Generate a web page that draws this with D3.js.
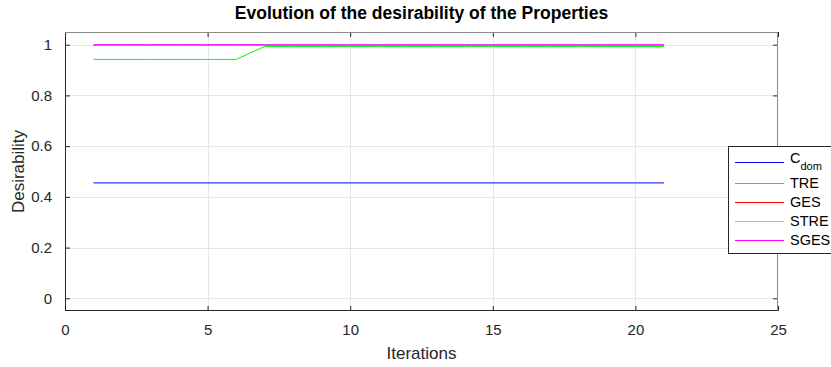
<!DOCTYPE html>
<html><head><meta charset="utf-8">
<script src="https://cdn.jsdelivr.net/npm/d3@7"></script>
<style>body{margin:0;background:#fff;}svg{display:block;font-family:"Liberation Sans",Arial,sans-serif;}</style>
</head><body><svg id="c" width="831" height="367"></svg>
<script>
const iterations = d3.range(1, 22);
const cdom = [0.455,0.455,0.455,0.455,0.455,0.455,0.455,0.455,0.455,0.455,0.455,0.455,0.455,0.455,0.455,0.455,0.455,0.455,0.455,0.455,0.455];
const tre  = [0.942,0.942,0.942,0.942,0.942,0.942,0.993,0.993,0.993,0.993,0.993,0.993,0.993,0.993,0.993,0.993,0.993,0.993,0.993,0.993,0.993];
const ges  = [0.997,0.997,0.997,0.997,0.997,0.997,0.997,0.997,0.997,0.997,0.997,0.997,0.997,0.997,0.997,0.997,0.997,0.997,0.997,0.997,0.997];
const stre = [0.998,0.998,0.998,0.998,0.998,0.998,0.998,0.998,0.998,0.998,0.998,0.998,0.998,0.998,0.998,0.998,0.998,0.998,0.998,0.998,0.998];
const sges = [1,1,1,1,1,1,1,1,1,1,1,1,1,1,1,1,1,1,1,1,1];
const seriesNames = ["C_dom","TRE","GES","STRE","SGES"];
const seriesColors = ["#0000ff","#00ff00","#ff0000","#00ffff","#ff00ff"];
const xTicks = [0,5,10,15,20,25];
const yTicks = [0,0.2,0.4,0.6,0.8,1];
const yTickLabels = ["0","0.2","0.4","0.6","0.8","1"];

const svg = d3.select("#c");
const L=65, R=778, T=32, B=311;
const x = d3.scaleLinear().domain([0,25]).range([L,R]);
const y = d3.scaleLinear().domain([-0.05,1.05]).range([B,T]);

svg.append("rect").attr("x",L).attr("y",T).attr("width",R-L).attr("height",B-T).attr("fill","#fff");
// grid
const g = svg.append("g");
g.selectAll(".gx").data(xTicks.slice(1,-1)).join("line")
  .attr("x1",d=>Math.round(x(d))+0.5).attr("x2",d=>Math.round(x(d))+0.5).attr("y1",T).attr("y2",B)
  .attr("stroke","#e6e6e6").attr("stroke-width",1);
g.selectAll(".gy").data(yTicks).join("line")
  .attr("y1",d=>Math.round(y(d))+0.5).attr("y2",d=>Math.round(y(d))+0.5).attr("x1",L).attr("x2",R)
  .attr("stroke","#e6e6e6").attr("stroke-width",1);

// axes with inward ticks
const ax = svg.append("g").attr("transform",`translate(0,${B})`)
  .call(d3.axisBottom(x).tickValues(xTicks).tickFormat(d3.format("d")).tickSizeInner(-5).tickSizeOuter(0).tickPadding(19));
const ay = svg.append("g").attr("transform",`translate(${L},0)`)
  .call(d3.axisLeft(y).tickValues(yTicks).tickFormat((d,i)=>yTickLabels[i]).tickSizeInner(-5).tickSizeOuter(0).tickPadding(13));
const axTop = svg.append("g").attr("transform",`translate(0,${T})`)
  .call(d3.axisTop(x).tickValues(xTicks).tickFormat("").tickSizeInner(-5).tickSizeOuter(0));
const ayR = svg.append("g").attr("transform",`translate(${R},0)`)
  .call(d3.axisRight(y).tickValues(yTicks).tickFormat("").tickSizeInner(-5).tickSizeOuter(0));
[ax,ay,axTop,ayR].forEach(a=>{
  a.select(".domain").remove();
  a.selectAll(".tick line").attr("stroke","#262626");
  a.selectAll(".tick text").attr("fill","#262626").style("font-size","15px").style("font-family","'Liberation Sans',Arial,sans-serif");
});
ax.selectAll(".tick text").attr("dy","0.35em");

// series lines
const seriesData = [cdom,tre,ges,stre,sges];
const line = d3.line().x((d,i)=>x(iterations[i])).y(d=>y(d));
svg.selectAll(".ser").data(seriesData).join("path")
  .attr("d",d=>line(d)).attr("fill","none")
  .attr("stroke",(d,i)=>seriesColors[i]).attr("stroke-width",1);

// box
svg.append("rect").attr("x",L+0.5).attr("y",T+0.5).attr("width",R-L-1).attr("height",B-T-1)
  .attr("fill","none").attr("stroke","#262626").attr("stroke-width",1);
svg.append("line").attr("x1",L).attr("x2",R).attr("y1",T+0.5).attr("y2",T+0.5).attr("stroke","#8a8a8a");
svg.append("line").attr("x1",R-0.5).attr("x2",R-0.5).attr("y1",T).attr("y2",B).attr("stroke","#8a8a8a");

// title and labels
svg.append("text").attr("x",(L+R)/2).attr("y",19).attr("text-anchor","middle")
  .style("font-size","17.5px").style("font-weight","bold").attr("fill","#000")
  .text("Evolution of the desirability of the Properties");
svg.append("text").attr("x",(L+R)/2).attr("y",359).attr("text-anchor","middle")
  .style("font-size","17px").attr("fill","#262626").text("Iterations");
svg.append("text").attr("transform",`translate(24,${(T+B)/2}) rotate(-90)`).attr("text-anchor","middle")
  .style("font-size","17px").attr("fill","#262626").text("Desirability");

// legend
const lg = svg.append("g");
lg.append("rect").attr("x",728.5).attr("y",146.5).attr("width",110).attr("height",107)
  .attr("fill","#fff").attr("stroke","#262626").attr("stroke-width",1);
const rowsY = [162,183,202,221,240];
seriesNames.forEach((n,i)=>{
  lg.append("line").attr("x1",735).attr("x2",784).attr("y1",rowsY[i]+0.5).attr("y2",rowsY[i]+0.5)
    .attr("stroke",seriesColors[i]).attr("stroke-width",1).attr("shape-rendering","crispEdges");
  const t = lg.append("text").attr("x",790).attr("y",rowsY[i]).attr("dy","0.35em")
    .style("font-size","14.5px").attr("fill","#000");
  if (n === "C_dom") {
    t.attr("dy","0.1em");
    t.append("tspan").text("C");
    t.append("tspan").attr("dy","0.55em").style("font-size","11px").text("dom");
  } else t.text(n);
});
</script></body></html>
